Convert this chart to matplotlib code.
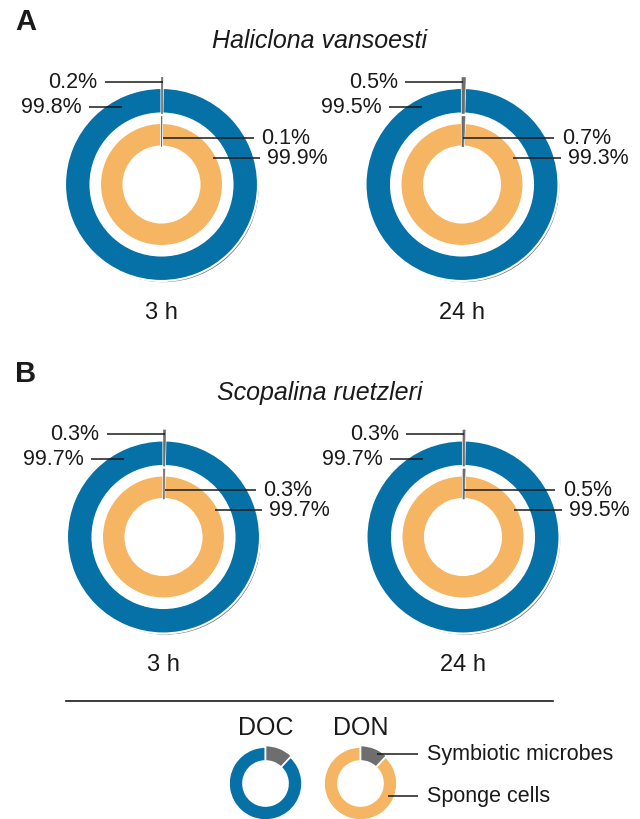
import numpy as np
import matplotlib.pyplot as plt

plt.rcParams['font.family'] = ['Liberation Sans', 'DejaVu Sans']

# Share of assimilated DOC / DON (%) per compartment
species = ["Haliclona vansoesti", "Scopalina ruetzleri"]
panels = ["A", "B"]
times = ["3 h", "24 h"]
doc_microbes = [[0.2, 0.5], [0.3, 0.3]]
doc_sponge = [[99.8, 99.5], [99.7, 99.7]]
don_microbes = [[0.1, 0.7], [0.3, 0.5]]
don_sponge = [[99.9, 99.3], [99.7, 99.5]]
# legend example donuts
legend_parts = [12, 88]
legend_names = ["Symbiotic microbes", "Sponge cells"]

BLUE = '#0571a6'
ORANGE = '#f5b563'
GREY = '#6e6e6e'
INK = '#1a1a1a'
H = 820

fig = plt.figure(figsize=(6.4, 8.2), dpi=100)
ax = fig.add_axes([0, 0, 1, 1])


def Y(y):
    return H - y  # pixel row -> data y


def ring(cx, cy, vals, r_out, width, r_grey, color, shadow=False, lw=1.5):
    if shadow:
        # soft drop shadow to the lower right
        for dx, dy, sc in [(3, -3.5, '#c4c4c4'), (1.8, -2.2, '#6c6c6c')]:
            ax.pie(vals, center=(cx + dx, Y(cy) + dy), radius=r_out, startangle=90,
                   counterclock=False, colors=[sc] * 2,
                   wedgeprops=dict(width=width, edgecolor='white', linewidth=lw))
        # keep the hole clean of shadow
        ax.pie([1], center=(cx, Y(cy)), radius=r_out - width, colors=['white'],
               wedgeprops=dict(linewidth=0))
    w, _ = ax.pie(vals, center=(cx, Y(cy)), radius=r_out, startangle=90,
                  counterclock=False, colors=[GREY, color],
                  wedgeprops=dict(width=width, edgecolor='white', linewidth=lw))
    w[0].set_radius(r_grey)
    w[0].set_width(r_grey - (r_out - width))
    w[0].set_edgecolor(GREY)
    w[0].set_linewidth(0.5)
    w[0].set_zorder(3)


def leader(x0, x1, y):
    ax.plot([x0, x1], [Y(y), Y(y)], color=INK, lw=1.1, solid_capstyle='butt', zorder=4)


fs = 15.5
centers = [[(161.5, 185.5), (462, 185.5)], [(163.5, 538), (463, 538)]]
top = [0, 352.5]

for i in range(2):
    ax.text(15, Y(21.5 + top[i]), panels[i], fontsize=21, fontweight='bold',
            ha='left', va='center', color=INK)
    ax.text(320, Y(41 + top[i]), species[i], fontsize=18, style='italic',
            ha='center', va='center', color=INK)
    for j in range(2):
        cx, cy = centers[i][j]
        ring(cx, cy, [doc_microbes[i][j], doc_sponge[i][j]], 96.5, 25.5, 107, BLUE, shadow=True)
        ring(cx, cy, [don_microbes[i][j], don_sponge[i][j]], 61.5, 23.5, 68, ORANGE)

        # outer ring labels
        leader(cx - 57, cx + 1, cy - 103)
        ax.text(cx - 64, Y(cy - 103), "%.1f%%" % doc_microbes[i][j], fontsize=fs,
                ha='right', va='center', color=INK)
        leader(cx - 73, cx - 40, cy - 78)
        ax.text(cx - 80, Y(cy - 78), "%.1f%%" % doc_sponge[i][j], fontsize=fs,
                ha='right', va='center', color=INK)
        # inner ring labels
        leader(cx + 1, cx + 92, cy - 47)
        ax.text(cx + 100, Y(cy - 47), "%.1f%%" % don_microbes[i][j], fontsize=fs,
                ha='left', va='center', color=INK)
        leader(cx + 51, cx + 99, cy - 27)
        ax.text(cx + 106, Y(cy - 27), "%.1f%%" % don_sponge[i][j], fontsize=fs,
                ha='left', va='center', color=INK)

        ax.text(cx, Y(313 + top[i]), times[j], fontsize=17, ha='center', va='center', color=INK)

# legend
ax.plot([66, 553], [Y(702), Y(702)], color=INK, lw=1.2)
for name, lx, col in [("DOC", 265.5, BLUE), ("DON", 360.5, ORANGE)]:
    ax.text(lx, Y(728), name, fontsize=18, ha='center', va='center', color=INK)
    w, _ = ax.pie(legend_parts, center=(lx, Y(784.5)), radius=36.5, startangle=90,
                  counterclock=False, colors=[GREY, col],
                  wedgeprops=dict(width=14, edgecolor='white', linewidth=1.2))
    w[0].set_radius(38)
    w[0].set_width(15.5)
    w[0].set_zorder(3)

leader(377, 418, 755)
leader(388, 418, 797)
ax.text(427, Y(755), legend_names[0], fontsize=fs, ha='left', va='center', color=INK)
ax.text(427, Y(797), legend_names[1], fontsize=fs, ha='left', va='center', color=INK)

ax.set_xlim(0, 640)
ax.set_ylim(0, H)
ax.set_aspect('equal')
ax.axis('off')

fig.savefig('out.png', dpi=100, facecolor='white')
